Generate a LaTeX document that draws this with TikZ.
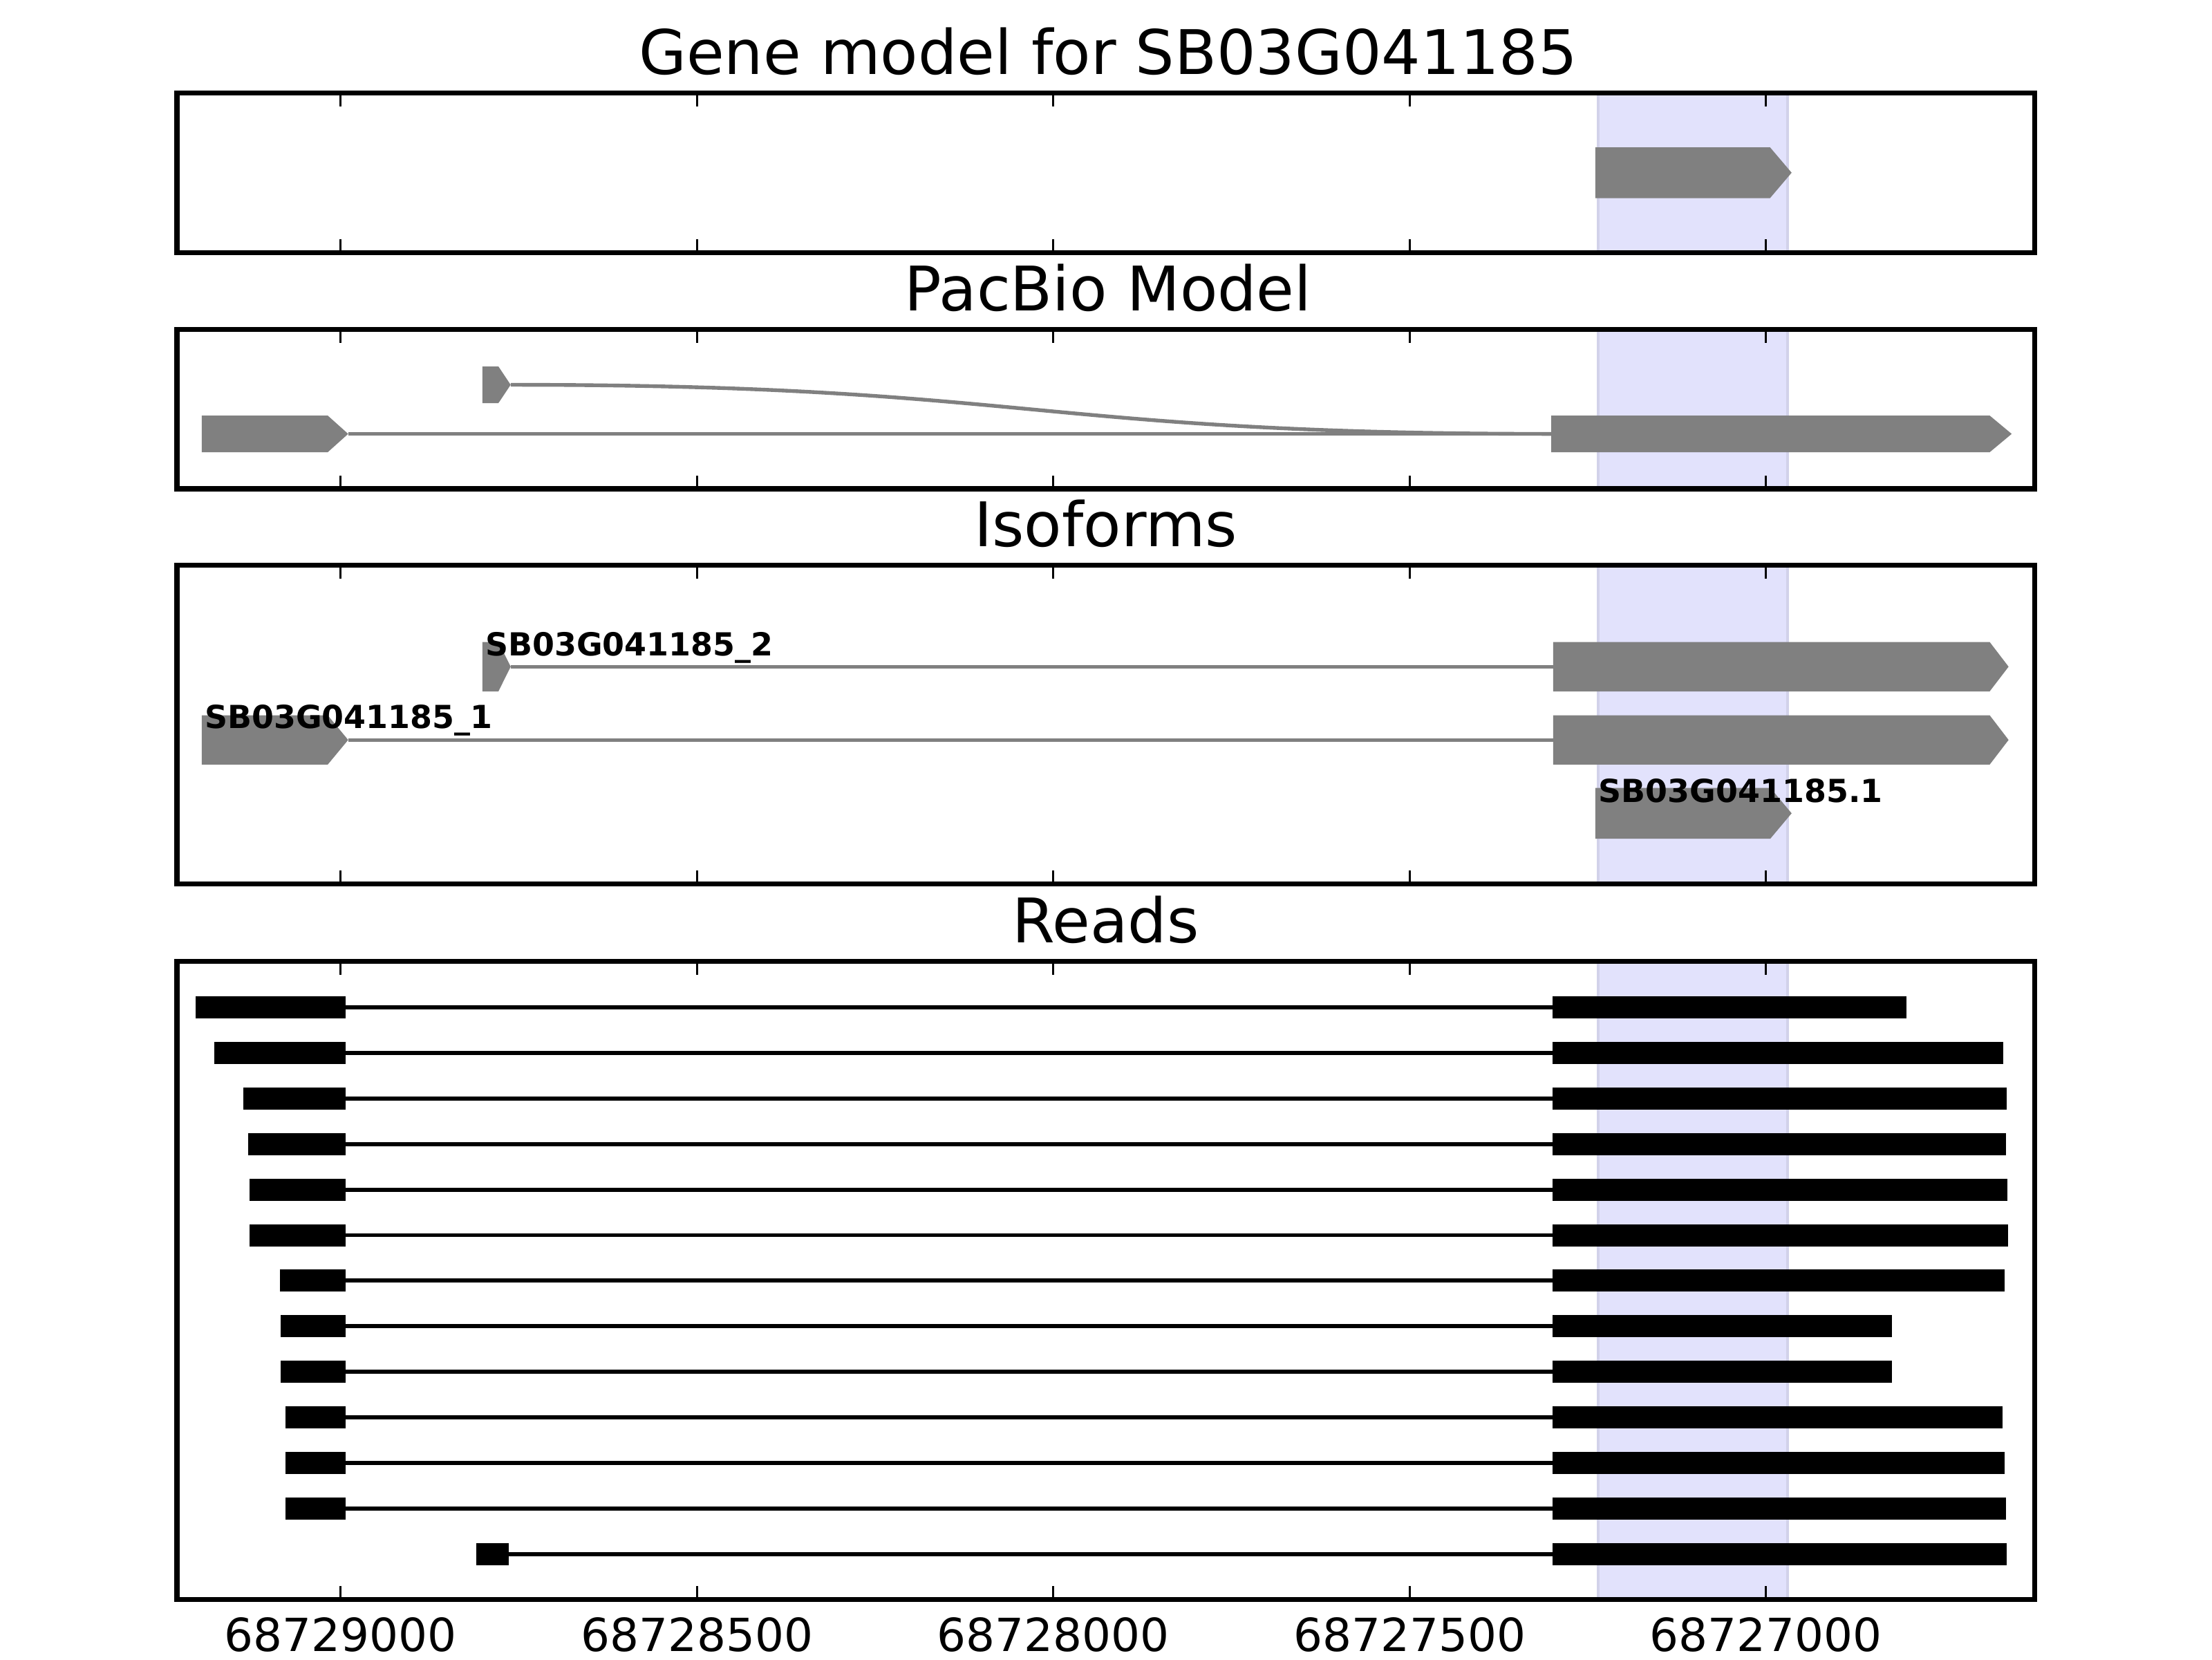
\documentclass[tikz,border=0pt]{standalone}
\usepackage{fontspec}
\setmainfont{DejaVu Sans}
\usepackage{tikz}
\usetikzlibrary{positioning}
\definecolor{exonGray}{RGB}{128,128,128}
\definecolor{spanBlue}{RGB}{226,226,252}
\definecolor{spanEdge}{RGB}{210,210,234}

% exon arrow: start, body end, tip, centre, half height
\newcommand{\exonArrow}[5]{%
  \fill[exonGray] (#1,{#4-#5}) -- (#2,{#4-#5}) -- (#3,#4) -- (#2,{#4+#5}) -- (#1,{#4+#5}) -- cycle;}
% highlighted span of the gene
\newcommand{\spanBand}[2]{%
  \filldraw[fill=spanBlue, draw=spanEdge, line width=0.5pt] (1132.8,#1) rectangle (1267,#2);}
% ticks and frame of one panel
\newcommand{\panelFrame}[2]{%
  \foreach \tx in {241.5,494.1,746.7,999.3,1251.9} {
    \draw[axtick] (\tx,#1) -- ++(0,9.5);
    \draw[axtick] (\tx,#2) -- ++(0,-9.5);
  }
  \draw[frame] (125.4,#1) rectangle (1442.2,#2);}

\begin{document}
\begin{tikzpicture}[x=0.1mm, y=-0.1mm,
  frame/.style={line width=1pt},
  axtick/.style={line width=0.4pt},
  intron/.style={exonGray, line width=0.75pt},
  readline/.style={line width=0.8pt},
  paneltitle/.style={anchor=base, inner sep=0pt, font=\fontsize{12.4}{14}\selectfont},
  isolabel/.style={anchor=base west, inner sep=0pt, font=\fontsize{6.4}{8}\selectfont\bfseries},
  poslabel/.style={anchor=base, inner sep=0pt, font=\fontsize{9.2}{11}\selectfont}]
  \useasboundingbox (0,0) rectangle (1568,1176);
  \fill[white] (0,0) rectangle (1568,1176);

  % Gene model
  \node[paneltitle] (geneTitle) at (785.5,52.6) {Gene model for SB03G041185};
  \spanBand{66}{179}
  \exonArrow{1130.8}{1254.7}{1270}{122.4}{18}
  \panelFrame{66}{179}

  % PacBio model
  \node[paneltitle] (pacbioTitle) at (785.5,220.2) {PacBio Model};
  \spanBand{233.6}{346.4}
  \draw[intron] (362,272.7) .. controls (731,272.7) and (731,307.5) .. (1100,307.5);
  \draw[intron] (246.8,307.5) -- (1100,307.5);
  \exonArrow{143}{232.3}{246.8}{307.5}{13}
  \exonArrow{342}{353.3}{362}{272.7}{13}
  \exonArrow{1099.6}{1410.4}{1426}{307.5}{13}
  \panelFrame{233.6}{346.4}

  % Isoforms
  \node[paneltitle] (isoTitle) at (783.8,387.3) {Isoforms};
  \spanBand{400.7}{626.6}
  \draw[intron] (362,472.5) -- (1101,472.5);
  \exonArrow{342}{353.3}{362}{472.5}{17.5}
  \exonArrow{1101}{1410.4}{1423.8}{472.5}{17.5}
  \draw[intron] (246.8,524.4) -- (1101,524.4);
  \exonArrow{143}{232.3}{246.8}{524.4}{17.5}
  \exonArrow{1101}{1410.4}{1423.8}{524.4}{17.5}
  \exonArrow{1130.8}{1254.9}{1270}{576.4}{18}
  \node[isolabel] (iso2Label) at (343.4,465.0) {SB03G041185\_2};
  \node[isolabel] (iso1Label) at (144.4,516.4) {SB03G041185\_1};
  \node[isolabel] (geneLabel) at (1132.6,568.7) {SB03G041185.1};
  \panelFrame{400.7}{626.6}

  % Reads
  \node[paneltitle] (readsTitle) at (783.8,668.1) {Reads};
  \spanBand{681.5}{1133.5}
  \foreach \ry/\la/\lb/\rx in {713.9/138.7/245.2/1351.2, 746.2/151.8/245.2/1420.1,
      778.5/172.5/245.2/1422.7, 810.8/175.8/245.2/1422.2, 843.1/176.8/245.2/1423.1,
      875.4/176.8/245.2/1423.6, 907.6/198.3/245.2/1421.2, 939.9/198.9/245.2/1340.9,
      972.2/198.9/245.2/1340.9, 1004.5/202.3/245.2/1419.6, 1036.8/202.3/245.2/1421.2,
      1069.1/202.3/245.2/1422.2, 1101.4/337.7/360.4/1422.7} {
    \fill (\la,{\ry-7.85}) rectangle (\lb,{\ry+7.85});
    \draw[readline] (\lb,\ry) -- (1100.4,\ry);
    \fill (1100.4,{\ry-7.85}) rectangle (\rx,{\ry+7.85});
  }
  \panelFrame{681.5}{1133.5}

  % Positions
  \foreach \tx/\pos [count=\i] in {241.5/68729000, 494.1/68728500, 746.7/68728000,
      999.3/68727500, 1251.9/68727000}
    \node[poslabel] (pos\i) at (\tx,1170.2) {\pos};
\end{tikzpicture}
\end{document}
